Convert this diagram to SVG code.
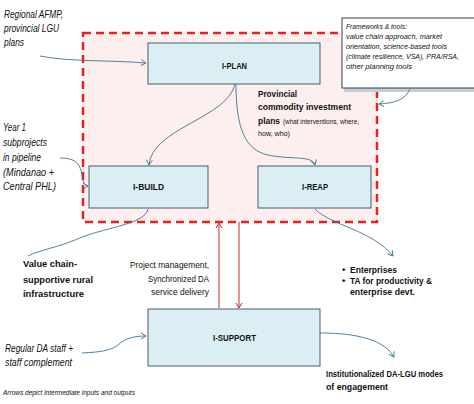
<svg xmlns="http://www.w3.org/2000/svg" width="474" height="404" viewBox="0 0 474 404">
<style>
text{font-family:"Liberation Sans",Arial,sans-serif;fill:#111}
.it{font-style:italic;font-size:10.5px}
.fw{font-style:italic;font-size:8px}
.b{font-weight:bold;font-size:9.5px}
.r{font-size:9.5px}
.sm{font-size:7.5px}
.lbl{font-weight:bold;font-size:9.5px;text-anchor:middle}
.box{fill:#daeef3;stroke:#4b5c6e;stroke-width:1}
.con{fill:none;stroke:#3d7595;stroke-width:0.9}
.red{fill:none;stroke:#d02a2a;stroke-width:1}
</style>
<defs>
<marker id="ah" markerWidth="8" markerHeight="8" refX="6" refY="4" orient="auto" markerUnits="userSpaceOnUse">
<path d="M1,1 L6,4 L1,7" fill="none" stroke="#3d7595" stroke-width="0.9"/>
</marker>
<marker id="rh" markerWidth="8" markerHeight="8" refX="6" refY="4" orient="auto" markerUnits="userSpaceOnUse">
<path d="M1,1 L6,4 L1,7" fill="none" stroke="#d02a2a" stroke-width="1"/>
</marker>
</defs>
<rect width="474" height="404" fill="#fff"/>

<g id="scope">
<rect x="83" y="33" width="294" height="189" fill="#fcefee" stroke="#e8201f" stroke-width="2.5" stroke-dasharray="8 5"/>
</g>

<g id="frameworks">
<rect x="344" y="20" width="132" height="72" fill="#c8cdd2"/>
<rect x="342" y="18" width="134" height="70" fill="#fff" stroke="#2f3f4f" stroke-width="1"/>
<text class="fw" x="346" y="29" textLength="61" lengthAdjust="spacingAndGlyphs">Frameworks &amp; tools:</text>
<text class="fw" x="346" y="39" textLength="96" lengthAdjust="spacingAndGlyphs">value chain approach, market</text>
<text class="fw" x="346" y="49" textLength="101" lengthAdjust="spacingAndGlyphs">orientation, science-based tools</text>
<text class="fw" x="346" y="59" textLength="113" lengthAdjust="spacingAndGlyphs">(climate resilience, VSA), PRA/RSA,</text>
<text class="fw" x="346" y="69" textLength="66" lengthAdjust="spacingAndGlyphs">other planning tools</text>
</g>

<g id="iplan">
<rect class="box" x="148" y="43" width="172" height="41"/>
<text class="lbl" x="234.5" y="68.5" textLength="25" lengthAdjust="spacingAndGlyphs">I-PLAN</text>
</g>
<g id="ibuild">
<rect class="box" x="89" y="166" width="119" height="42"/>
<text class="lbl" x="148.5" y="189.5" textLength="31" lengthAdjust="spacingAndGlyphs">I-BUILD</text>
</g>
<g id="ireap">
<rect class="box" x="258" y="166" width="113" height="42"/>
<text class="lbl" x="315" y="189.5" textLength="26" lengthAdjust="spacingAndGlyphs">I-REAP</text>
</g>
<g id="isupport">
<rect class="box" x="148" y="309" width="172" height="57"/>
<text class="lbl" x="234.5" y="340.5" textLength="43" lengthAdjust="spacingAndGlyphs">I-SUPPORT</text>
</g>

<g id="inputs">
<text class="it" x="4" y="18" textLength="59" lengthAdjust="spacingAndGlyphs">Regional AFMP,</text>
<text class="it" x="4" y="32" textLength="55" lengthAdjust="spacingAndGlyphs">provincial LGU</text>
<text class="it" x="4" y="46" textLength="20" lengthAdjust="spacingAndGlyphs">plans</text>
<text class="it" x="3" y="131" textLength="23" lengthAdjust="spacingAndGlyphs">Year 1</text>
<text class="it" x="3" y="146" textLength="44" lengthAdjust="spacingAndGlyphs">subprojects</text>
<text class="it" x="3" y="161" textLength="38" lengthAdjust="spacingAndGlyphs">in pipeline</text>
<text class="it" x="3" y="176" textLength="51" lengthAdjust="spacingAndGlyphs">(Mindanao +</text>
<text class="it" x="3" y="190" textLength="53" lengthAdjust="spacingAndGlyphs">Central PHL)</text>
<text class="it" x="5" y="352" textLength="68" lengthAdjust="spacingAndGlyphs">Regular DA staff +</text>
<text class="it" x="5" y="366" textLength="67" lengthAdjust="spacingAndGlyphs">staff complement</text>
</g>

<g id="outputs">
<text class="b" x="258" y="97" textLength="39" lengthAdjust="spacingAndGlyphs">Provincial</text>
<text class="b" x="258" y="110" textLength="93" lengthAdjust="spacingAndGlyphs">commodity investment</text>
<text class="b" x="258" y="124" textLength="22" lengthAdjust="spacingAndGlyphs">plans</text>
<text class="sm" x="283" y="124" textLength="76" lengthAdjust="spacingAndGlyphs">(what interventions, where,</text>
<text class="sm" x="258" y="136" textLength="32" lengthAdjust="spacingAndGlyphs">how, who)</text>
<text class="b" x="23" y="267" textLength="54" lengthAdjust="spacingAndGlyphs">Value chain-</text>
<text class="b" x="23" y="283" textLength="70" lengthAdjust="spacingAndGlyphs">supportive rural</text>
<text class="b" x="23" y="297" textLength="61" lengthAdjust="spacingAndGlyphs">infrastructure</text>
<text class="r" x="209" y="268" text-anchor="end" textLength="79" lengthAdjust="spacingAndGlyphs">Project management,</text>
<text class="r" x="209" y="282" text-anchor="end" textLength="61" lengthAdjust="spacingAndGlyphs">Synchronized DA</text>
<text class="r" x="209" y="295" text-anchor="end" textLength="58" lengthAdjust="spacingAndGlyphs">service delivery</text>
<text class="b" x="342" y="273">•</text>
<text class="b" x="350" y="273" textLength="47" lengthAdjust="spacingAndGlyphs">Enterprises</text>
<text class="b" x="342" y="284">•</text>
<text class="b" x="350" y="284" textLength="82" lengthAdjust="spacingAndGlyphs">TA for productivity &amp;</text>
<text class="b" x="350" y="295" textLength="65" lengthAdjust="spacingAndGlyphs">enterprise devt.</text>
<text class="b" x="326" y="377" textLength="117" lengthAdjust="spacingAndGlyphs">Institutionalized DA-LGU modes</text>
<text class="b" x="326" y="390" textLength="62" lengthAdjust="spacingAndGlyphs">of engagement</text>
<text style="font-size:6.5px;font-style:italic" x="3" y="395">Arrows depict intermediate inputs and outputs</text>
</g>

<g id="connectors">
<path class="con" d="M40,56 C70,62 110,60 146,63" marker-end="url(#ah)"/>
<path class="con" d="M410,89 C405,100 395,103 379,104" marker-end="url(#ah)"/>
<path class="con" d="M60,158 C75,158 80,163 82,175 C83,183 85,186 88,186" marker-end="url(#ah)"/>
<path class="con" d="M235,84 C228,118 152,128 149,165" marker-end="url(#ah)"/>
<path class="con" d="M236,84 C236,128 245,150 268,155 C292,160 312,155 315,165" marker-end="url(#ah)"/>
<path class="con" d="M148,209 C145,225 100,228 75,240 C55,248 40,250 28,256"/>
<path class="con" d="M315,209 C330,225 372,230 393,256" marker-end="url(#ah)"/>
<path class="con" d="M320,333 C345,333 382,336 394,357" marker-end="url(#ah)"/>
<path class="con" d="M82,353 C100,352 110,351 118,345 C125,338 135,336 146,336" marker-end="url(#ah)"/>
<path class="red" d="M219,308 L219,223" marker-end="url(#rh)" stroke="#e07070"/>
<path class="red" d="M239,222 L239,308" marker-end="url(#rh)"/>
</g>
</svg>
